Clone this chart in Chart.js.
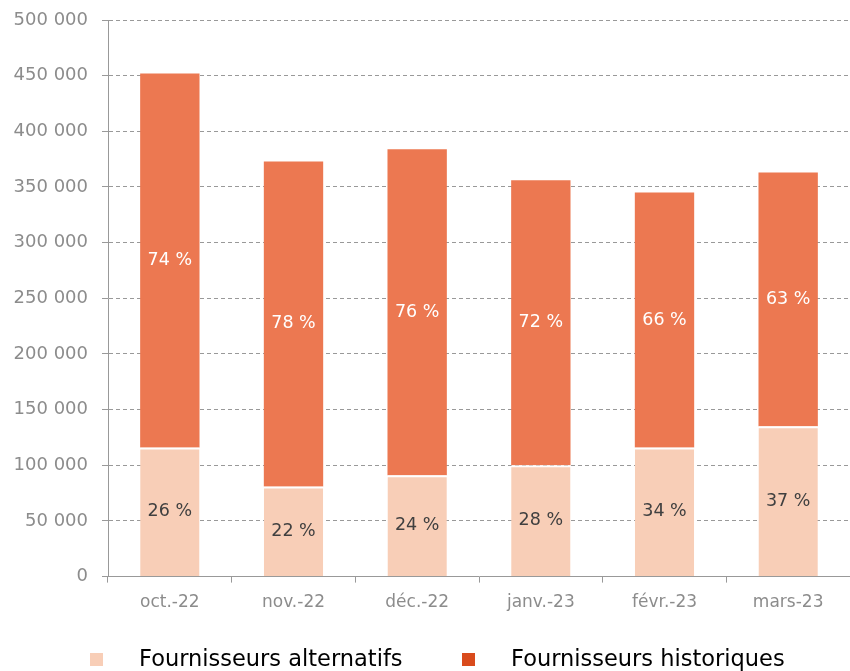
<!DOCTYPE html>
<html>
<head>
<meta charset="utf-8">
<script src="https://cdn.jsdelivr.net/npm/chart.js@4.4.0/dist/chart.umd.min.js"></script>
<style>
  body { margin: 0; background: #fff; }
  #wrap { width: 850px; height: 671px; }
</style>
</head>
<body>
<div id="wrap"><canvas id="myChart" width="850" height="671"></canvas></div>
<script>
const months = ['oct.-22', 'nov.-22', 'déc.-22', 'janv.-23', 'févr.-23', 'mars-23'];
const alternatifs = [116000, 81000, 91000, 100000, 116000, 135000];
const historiques = [336000, 292000, 293000, 256000, 229000, 228000];
const pctAlternatifs = ['26 %', '22 %', '24 %', '28 %', '34 %', '37 %'];
const pctHistoriques = ['74 %', '78 %', '76 %', '72 %', '66 %', '63 %'];

const lightColor = '#f8ceb7';
const darkColor = '#ec7851';
const legendDark = '#d94b1c';
const fontName = "'DejaVu Sans', sans-serif";

// percentages written in the middle of each segment
const pctLabels = {
    id: 'pctLabels',
    afterDatasetsDraw(chart) {
        const ctx = chart.ctx;
        ctx.save();
        ctx.font = '17.5px ' + fontName;
        ctx.textAlign = 'center';
        ctx.textBaseline = 'middle';
        const lists = [pctAlternatifs, pctHistoriques];
        const colors = ['#404040', '#ffffff'];
        for (let d = 0; d < 2; d++) {
            chart.getDatasetMeta(d).data.forEach((bar, i) => {
                ctx.fillStyle = colors[d];
                ctx.fillText(lists[d][i], bar.x, (bar.y + bar.base) / 2);
            });
        }
        ctx.restore();
    }
};

// legend drawn by hand under the axis
const bottomLegend = {
    id: 'bottomLegend',
    afterDraw(chart) {
        const ctx = chart.ctx;
        ctx.save();
        ctx.font = '22.5px ' + fontName;
        ctx.textBaseline = 'middle';
        const items = [
            {text: 'Fournisseurs alternatifs', color: lightColor, x: 90},
            {text: 'Fournisseurs historiques', color: legendDark, x: 462}
        ];
        items.forEach(it => {
            ctx.fillStyle = it.color;
            ctx.fillRect(it.x, 653, 13, 13);
            ctx.fillStyle = '#000';
            ctx.fillText(it.text, it.x + 49, 660);
        });
        ctx.restore();
    }
};

const ctx = document.getElementById('myChart').getContext('2d');
const myChart = new Chart(ctx, {
    type: 'bar',
    data: {
        labels: months,
        datasets: [{
            label: 'Fournisseurs alternatifs',
            data: alternatifs,
            backgroundColor: lightColor,
            borderColor: '#ffffff',
            borderWidth: {top: 2, left: 0, right: 0, bottom: 0},
            borderSkipped: false,
            categoryPercentage: 1,
            barPercentage: 0.48
        }, {
            label: 'Fournisseurs historiques',
            data: historiques,
            backgroundColor: darkColor,
            borderWidth: 0,
            categoryPercentage: 1,
            barPercentage: 0.48
        }]
    },
    options: {
        responsive: false,
        animation: false,
        layout: {padding: {top: 0, right: 0, left: 0, bottom: 48}},
        plugins: {
            legend: {display: false},
            tooltip: {enabled: false}
        },
        scales: {
            x: {
                stacked: true,
                grid: {display: true, drawOnChartArea: false, color: '#999', tickLength: 6},
                border: {color: '#999'},
                ticks: {color: '#8c8c8c', font: {family: fontName, size: 17}, padding: 10}
            },
            y: {
                stacked: true,
                min: 0,
                max: 500000,
                afterFit: (scale) => { scale.width = 108; scale.paddingTop = 20; },
                grid: {color: '#999', tickLength: 6},
                border: {color: '#999', dash: [4, 3]},
                ticks: {
                    stepSize: 50000,
                    color: '#8c8c8c',
                    padding: 14,
                    font: {family: fontName, size: 18, lineHeight: 1},
                    callback: (v) => String(v).replace(/\B(?=(\d{3})+(?!\d))/g, ' ')
                }
            }
        }
    },
    plugins: [pctLabels, bottomLegend]
});
</script>
</body>
</html>
